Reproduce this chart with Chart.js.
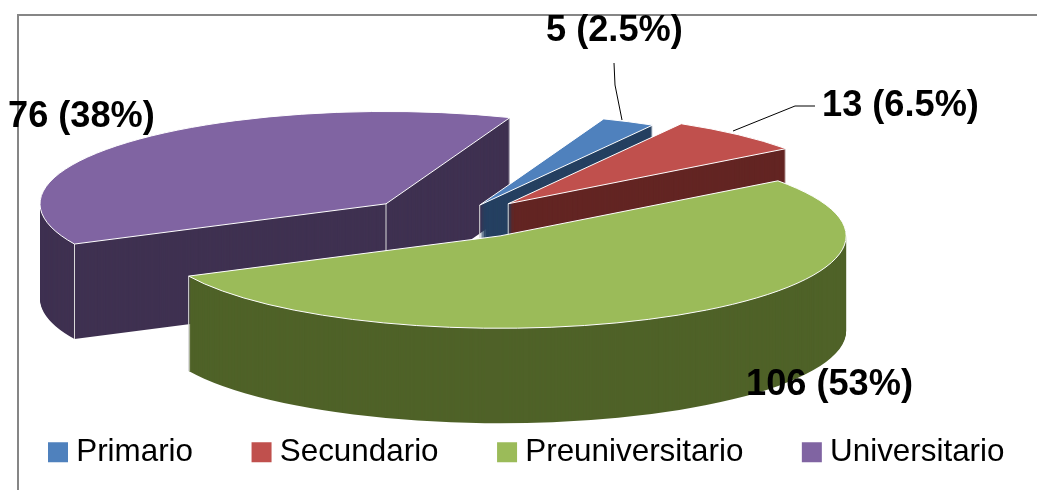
<!DOCTYPE html>
<html>
<head>
<meta charset="utf-8">
<script src="https://cdn.jsdelivr.net/npm/chart.js@4"></script>
<style>
  html, body { margin: 0; background: #fff; overflow: hidden; }
</style>
</head>
<body>
<canvas id="chart" width="1037" height="490"></canvas>
<script>
const categories = ["Primario", "Secundario", "Preuniversitario", "Universitario"];
const values = [5, 13, 106, 76];
const topColors = ["#4F81BD", "#C0504D", "#9BBB59", "#8064A2"];
const wallColors = ["#254061", "#632523", "#4F6228", "#3F3151"];

// look of the tilted pie
const centerX = 453, centerY = 218;
const squash = 0.267, explodeSquash = 0.23;
const depth = 95;
const explode = [62, 83, 91, 91];
const drawOrder = [3, 0, 1, 2];

// label text spots and leader lines
const labelSpots = [[546, 41], [822, 116], [746, 395], [8, 127]];
const leaders = [
  [[614, 63], [615, 85], [622, 120]],
  [[733, 131], [795, 106], [815, 106]]
];

const total = values.reduce((a, b) => a + b, 0);

function sliceCenter(arc, i) {
  const mid = (arc.startAngle + arc.endAngle) / 2;
  return {
    x: centerX + Math.cos(mid) * explode[i],
    y: centerY + Math.sin(mid) * explode[i] * explodeSquash
  };
}

function place(ctx, arc, c, dy) {
  ctx.translate(c.x, c.y + dy);
  ctx.scale(1, squash);
  ctx.translate(-arc.x, -arc.y);
}

const tiltedPie = {
  id: "tiltedPie",
  beforeDatasetsDraw(chart) {
    const ctx = chart.ctx;
    const arcs = chart.getDatasetMeta(0).data;

    drawOrder.forEach(i => {
      const arc = arcs[i];
      const c = sliceCenter(arc, i);
      const base = arc.options;
      const r = arc.outerRadius;

      // side walls: the slice stacked downwards in its dark colour
      arc.options = { ...base, backgroundColor: wallColors[i] };
      for (let dy = depth; dy > 0; dy--) {
        ctx.save();
        place(ctx, arc, c, dy);
        arc.draw(ctx);
        ctx.restore();
      }
      arc.options = base;

      // wall corners, only the ones facing the viewer
      const corners = [];
      if (arc.endAngle - arc.startAngle < Math.PI) corners.push([c.x, c.y]);
      [arc.startAngle, arc.endAngle].forEach(a => {
        if (Math.sin(a) > 0) corners.push([c.x + Math.cos(a) * r, c.y + Math.sin(a) * r * squash]);
      });
      ctx.save();
      ctx.strokeStyle = "#D9D9D9";
      ctx.lineWidth = 1;
      corners.forEach(p => {
        ctx.beginPath();
        ctx.moveTo(p[0], p[1]);
        ctx.lineTo(p[0], p[1] + depth);
        ctx.stroke();
      });
      ctx.restore();

      // top face
      ctx.save();
      place(ctx, arc, c, 0);
      arc.draw(ctx);
      ctx.restore();

      // thin white outline, stroked outside the squash so it stays even
      ctx.save();
      ctx.save();
      place(ctx, arc, c, 0);
      ctx.beginPath();
      ctx.moveTo(arc.x, arc.y);
      ctx.arc(arc.x, arc.y, r, arc.startAngle, arc.endAngle);
      ctx.closePath();
      ctx.restore();
      ctx.strokeStyle = "#fff";
      ctx.lineWidth = 1;
      ctx.stroke();
      ctx.restore();
    });
    return false;
  },
  beforeDraw(chart) {
    const ctx = chart.ctx;
    ctx.save();
    ctx.strokeStyle = "#868686";
    ctx.lineWidth = 2;
    ctx.beginPath();
    ctx.moveTo(18, chart.height);
    ctx.lineTo(18, 15);
    ctx.lineTo(chart.width, 15);
    ctx.stroke();
    ctx.restore();
  },
  afterDraw(chart) {
    const ctx = chart.ctx;
    ctx.save();
    ctx.strokeStyle = "#000";
    ctx.lineWidth = 1;
    leaders.forEach(pts => {
      ctx.beginPath();
      pts.forEach((p, n) => n ? ctx.lineTo(p[0], p[1]) : ctx.moveTo(p[0], p[1]));
      ctx.stroke();
    });
    ctx.fillStyle = "#000";
    ctx.font = "bold 36.2px 'Liberation Sans'";
    ctx.textAlign = "left";
    ctx.textBaseline = "alphabetic";
    values.forEach((v, i) => {
      const pct = Math.round(v / total * 1000) / 10;
      ctx.fillText(v + " (" + pct + "%)", labelSpots[i][0], labelSpots[i][1]);
    });
    ctx.restore();
  }
};

new Chart("chart", {
  type: "pie",
  data: {
    labels: categories,
    datasets: [{
      data: values,
      backgroundColor: topColors,
      borderWidth: 0
    }]
  },
  plugins: [tiltedPie],
  options: {
    responsive: false,
    animation: false,
    rotation: 21,
    radius: 346,
    // negative sides give the legend room for its wide gaps on one row
    layout: { padding: { bottom: 12, left: -10.5, right: -40 } },
    plugins: {
      tooltip: { enabled: false },
      legend: {
        position: "bottom",
        align: "start",
        labels: {
          color: "#000",
          font: { family: "'Liberation Sans'", size: 31.4 },
          boxWidth: 5,
          boxHeight: 5,
          padding: 66,
          // wide box border keeps the swatch close to its text
          generateLabels(chart) {
            return Chart.overrides.doughnut.plugins.legend.labels.generateLabels(chart)
              .map(item => ({ ...item, lineWidth: 15, strokeStyle: item.fillStyle }));
          }
        }
      }
    }
  }
});
</script>
</body>
</html>
